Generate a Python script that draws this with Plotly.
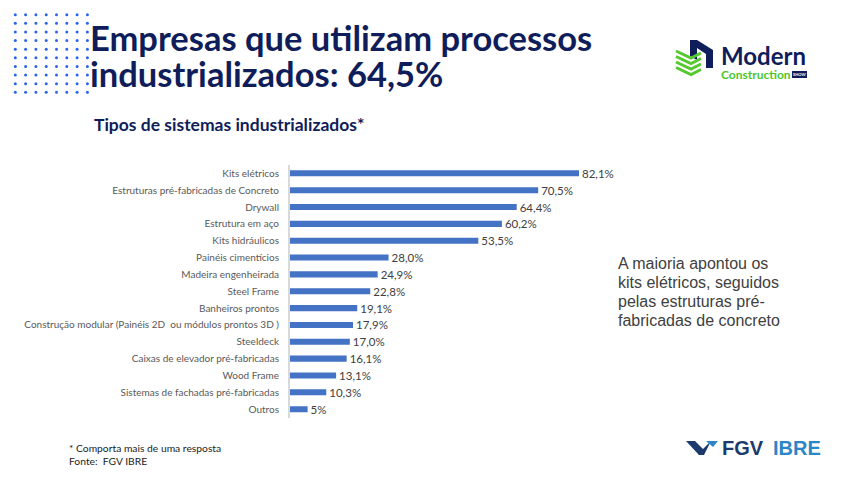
import plotly.graph_objects as go

W, H = 850, 477
OFF = 8  # page body margin offset

categories = [
    "Kits elétricos",
    "Estruturas pré-fabricadas de Concreto",
    "Drywall",
    "Estrutura em aço",
    "Kits hidráulicos",
    "Painéis cimentícios",
    "Madeira engenheirada",
    "Steel Frame",
    "Banheiros prontos",
    "Construção modular (Painéis 2D  ou módulos prontos 3D )",
    "Steeldeck",
    "Caixas de elevador pré-fabricadas",
    "Wood Frame",
    "Sistemas de fachadas pré-fabricadas",
    "Outros",
]
values = [82.1, 70.5, 64.4, 60.2, 53.5, 28.0, 24.9, 22.8, 19.1, 17.9, 17.0, 16.1, 13.1, 10.3, 5.0]
value_labels = ["82,1%", "70,5%", "64,4%", "60,2%", "53,5%", "28,0%", "24,9%", "22,8%",
                "19,1%", "17,9%", "17,0%", "16,1%", "13,1%", "10,3%", "5%"]

title_lines = ["Empresas que utilizam processos", "industrializados: 64,5%"]
subtitle_text = "Tipos de sistemas industrializados*"
side_lines = ["A maioria apontou os", "kits elétricos, seguidos", "pelas estruturas pré-", "fabricadas de concreto"]
footer_text = "* Comporta mais de uma resposta<br>Fonte:  FGV IBRE"

NAVY = "#0f1d5a"


def px(x):
    return (x - OFF) / W


def py(y):
    return 1 - (y - OFF) / H


fig = go.Figure()
fig.add_trace(go.Bar(
    x=values, y=categories, orientation="h",
    marker=dict(color="#4472c4", line=dict(width=0)),
    width=0.36,
    text=value_labels, textposition="outside", constraintext="none",
    textfont=dict(family="Lato", size=11.5, color="#404040"),
    cliponaxis=False,
    hoverinfo="skip",
))

shapes = []
# decorative dot grid
for i in range(9):
    for j in range(11):
        cx = 5 + i * 10.3
        cy = 6 + j * 8.63
        shapes.append(dict(type="circle", xref="paper", yref="paper",
                           x0=px(cx - 1.5), x1=px(cx + 1.5), y0=py(cy + 1.5), y1=py(cy - 1.5),
                           fillcolor="#2b63f0", line=dict(width=0)))


def poly(points, color, closed=True, width=0):
    d = "M " + " L ".join(f"{px(x):.5f},{py(y):.5f}" for x, y in points)
    if closed:
        d += " Z"
    s = dict(type="path", xref="paper", yref="paper", path=d)
    if closed:
        s.update(fillcolor=color, line=dict(width=0))
    else:
        s.update(line=dict(color=color, width=width))
    return s


# Modern Construction logo icon
shapes.append(poly([(690, 40), (697, 40), (713, 50), (713, 68), (706, 68), (706, 54), (697, 48), (697, 60), (690, 56)], NAVY))
for k in range(4):
    y0 = 51 + k * 5.5
    shapes.append(poly([(676, y0), (691, y0 + 7), (701, y0 + 2)], "#55c92f", closed=False, width=3))
# SHOW tag
shapes.append(dict(type="rect", xref="paper", yref="paper", x0=px(792), x1=px(807), y0=py(78), y1=py(71),
                   fillcolor=NAVY, line=dict(width=0)))
# FGV logo mark
shapes.append(poly([(686, 441), (695, 441), (703, 449), (711, 441), (704, 455), (699, 455)], "#1d3a6e"))
shapes.append(poly([(706, 441), (718, 441), (713, 447)], "#2a86c8"))

annotations = []
for k, line in enumerate(title_lines):
    annotations.append(dict(text=line, x=px(88), y=py(38 + k * 35.5), xref="paper", yref="paper",
                            xanchor="left", yanchor="middle", align="left", showarrow=False,
                            font=dict(family="Lato", size=34.5, color=NAVY, weight="bold")))
for k, line in enumerate(side_lines):
    annotations.append(dict(text=line, x=px(616), y=py(263 + k * 19), xref="paper", yref="paper",
                            xanchor="left", yanchor="middle", align="left", showarrow=False,
                            font=dict(family="Liberation Sans", size=16, color="#404040")))
annotations += [
    dict(text=subtitle_text, x=px(92), y=py(124), xref="paper", yref="paper", xanchor="left", yanchor="middle",
         align="left", showarrow=False, font=dict(family="Lato", size=17.5, color=NAVY, weight="bold")),
    dict(text=footer_text, x=px(67), y=py(454), xref="paper", yref="paper", xanchor="left", yanchor="middle",
         align="left", showarrow=False, font=dict(family="Lato", size=10.3, color="#222222")),
    dict(text="Modern", x=px(719), y=py(55.5), xref="paper", yref="paper", xanchor="left", yanchor="middle",
         showarrow=False, font=dict(family="Lato", size=24, color=NAVY, weight="bold")),
    dict(text="Construction", x=px(719), y=py(74.5), xref="paper", yref="paper", xanchor="left", yanchor="middle",
         showarrow=False, font=dict(family="Lato", size=12, color="#4cc72b", weight="bold")),
    dict(text="SHOW", x=px(799.5), y=py(74.5), xref="paper", yref="paper", xanchor="center", yanchor="middle",
         showarrow=False, font=dict(family="Lato", size=4, color="white", weight="bold")),
    dict(text="FGV", x=px(720), y=py(448), xref="paper", yref="paper", xanchor="left", yanchor="middle",
         showarrow=False, font=dict(family="Liberation Sans", size=20, color="#1d3a6e", weight="bold")),
    dict(text="IBRE", x=px(771), y=py(448), xref="paper", yref="paper", xanchor="left", yanchor="middle",
         showarrow=False, font=dict(family="Liberation Sans", size=20, color="#2a86c8", weight="bold")),
]

fig.update_layout(
    width=W, height=H,
    margin=dict(l=0, r=0, t=0, b=0),
    paper_bgcolor="white", plot_bgcolor="white",
    showlegend=False,
    shapes=shapes,
    annotations=annotations,
    xaxis=dict(domain=[px(290), px(642)], range=[0, 100], visible=False, fixedrange=True),
    yaxis=dict(domain=[py(417.6), py(164.9)], range=[14.5, -0.5], type="category",
               categoryorder="array", categoryarray=categories,
               showline=True, linecolor="#d9d9d9", linewidth=2,
               ticks="outside", ticklen=7, tickcolor="rgba(0,0,0,0)",
               tickfont=dict(family="Lato", size=10, color="#595959"),
               showgrid=False, zeroline=False, fixedrange=True),
)

fig.write_html("out.html")
